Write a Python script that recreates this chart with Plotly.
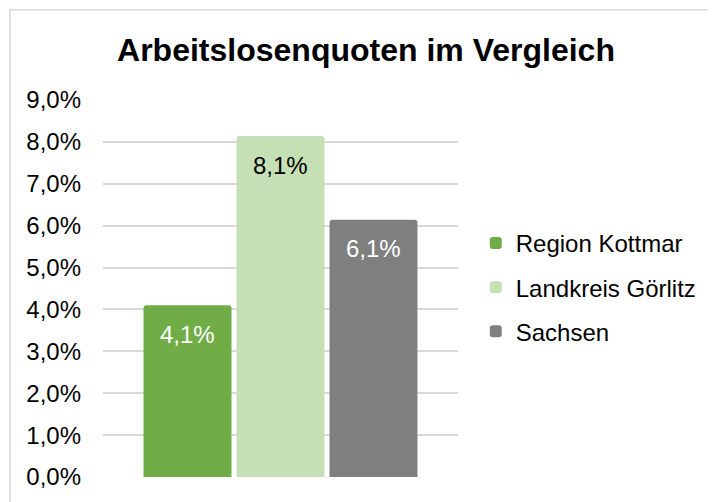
import plotly.graph_objects as go

categories = ["Region Kottmar", "Landkreis Görlitz", "Sachsen"]
values = [0.041, 0.0814, 0.0614]
colors = ["#70ad47", "#c5e0b4", "#7f7f7f"]
label_colors = ["white", "black", "white"]
tick_vals = [i / 100 for i in range(0, 10)]
title = "Arbeitslosenquoten im Vergleich"

FONT = "Liberation Sans, Arial, sans-serif"

# page has an 8px body margin, so the figure is drawn 8px smaller and offset
OFF = 8
W, H = 716 - OFF, 502 - OFF
L, R, T, B = 103 - OFF, 258, 100 - OFF, 22
pw, ph = W - L - R, H - T - B

fig = go.Figure()
for i, (c, v, col) in enumerate(zip(categories, values, colors)):
    fig.add_trace(go.Bar(
        x=[c], y=[v], name=c, marker=dict(color=col, line=dict(width=0), cornerradius=3),
        legendgroup=f"g{i}", hoverinfo="skip",
    ))

annotations = []
for c, v, lc in zip(categories, values, label_colors):
    annotations.append(dict(
        x=c, y=v, xref="x", yref="y", text=f"{v*100:.1f}%".replace(".", ","),
        showarrow=False, yshift=-29, font=dict(family=FONT, size=24, color=lc),
    ))

fig.update_layout(
    width=W, height=H,
    margin=dict(l=L, r=R, t=T, b=B, pad=0),
    paper_bgcolor="white", plot_bgcolor="white",
    separators=",.",
    barmode="overlay", bargap=0.054,
    font=dict(family=FONT, size=24, color="black"),
    title=dict(text=f"<b>{title}</b>", x=(366 - OFF) / W, xref="container", xanchor="center",
               y=1 - (50 - OFF) / H, yref="container", yanchor="middle",
               font=dict(family=FONT, size=32, color="black")),
    xaxis=dict(type="category", categoryorder="array", categoryarray=categories,
               range=[-0.909, 2.909], showticklabels=False, showgrid=False,
               zeroline=False, showline=False, fixedrange=True),
    yaxis=dict(range=[0, 0.09], tickvals=tick_vals, tickformat=".1%",
               showgrid=True, gridcolor="#d9d9d9", gridwidth=1.5,
               zeroline=False, showline=False, ticks="", ticklabelstandoff=21,
               tickfont=dict(family=FONT, size=24, color="black")),
    legend=dict(x=1.05, xanchor="left", y=0.503, yanchor="middle",
                traceorder="grouped", tracegroupgap=10,
                font=dict(family=FONT, size=24, color="black"),
                bgcolor="rgba(0,0,0,0)", itemclick=False, itemdoubleclick=False),
    annotations=annotations,
    shapes=[dict(type="rect", xref="paper", yref="paper",
                 x0=(10 - OFF - L) / pw, x1=(W + 10 - L) / pw,
                 y0=-(B + 10) / ph, y1=(H - (9 - OFF) - B) / ph,
                 line=dict(color="#d9d9d9", width=1.5), fillcolor="rgba(0,0,0,0)",
                 layer="below")],
    showlegend=True,
)

fig.write_html("out.html")
